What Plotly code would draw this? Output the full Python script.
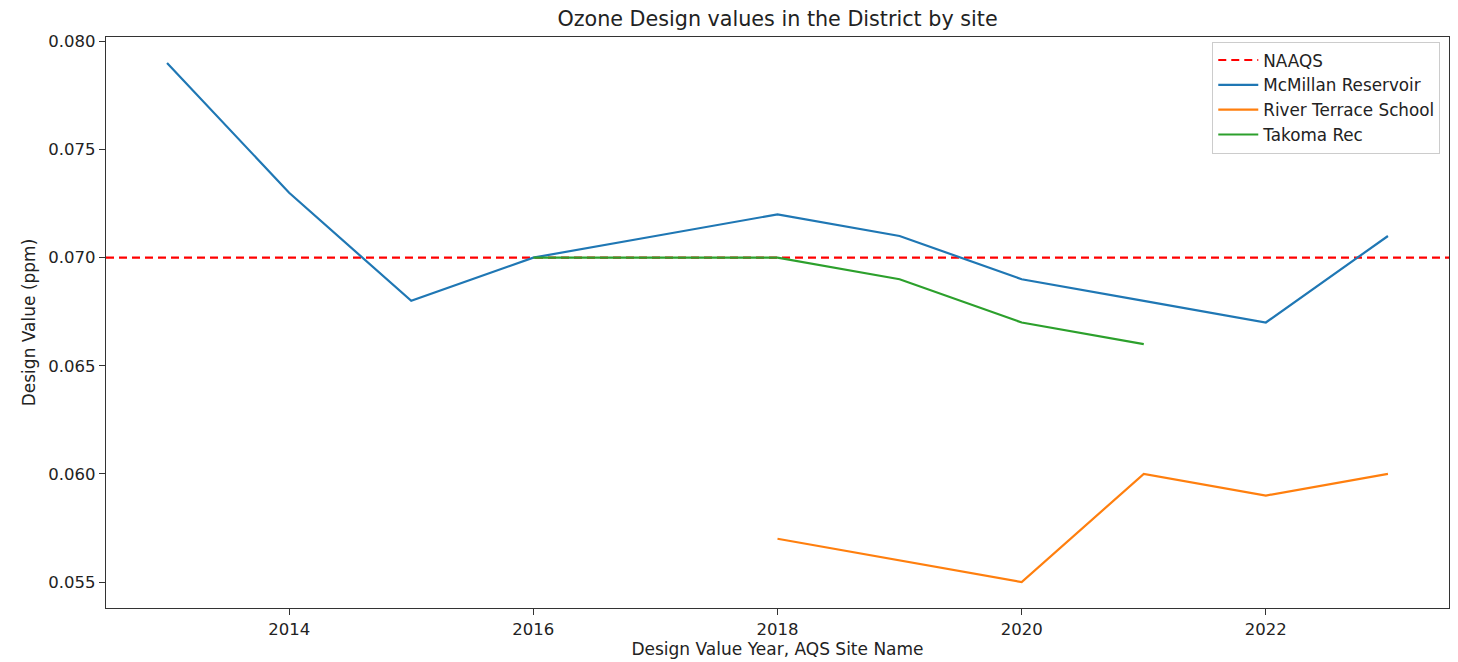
import plotly.graph_objects as go

naaqs = 0.070

mcm_years = [2013, 2014, 2015, 2016, 2017, 2018, 2019, 2020, 2021, 2022, 2023]
mcm_vals = [0.079, 0.073, 0.068, 0.070, 0.071, 0.072, 0.071, 0.069, 0.068, 0.067, 0.071]

rts_years = [2018, 2019, 2020, 2021, 2022, 2023]
rts_vals = [0.057, 0.056, 0.055, 0.060, 0.059, 0.060]

tak_years = [2016, 2017, 2018, 2019, 2020, 2021]
tak_vals = [0.070, 0.070, 0.070, 0.069, 0.067, 0.066]

fig = go.Figure()
fig.add_trace(go.Scatter(x=[2012.5, 2023.5], y=[naaqs, naaqs], mode="lines", name="NAAQS",
                         line=dict(color="red", width=2.2, dash="8px,5px")))
fig.add_trace(go.Scatter(x=mcm_years, y=mcm_vals, mode="lines", name="McMillan Reservoir",
                         line=dict(color="#1f77b4", width=2.2)))
fig.add_trace(go.Scatter(x=rts_years, y=rts_vals, mode="lines", name="River Terrace School",
                         line=dict(color="#ff7f0e", width=2.2)))
fig.add_trace(go.Scatter(x=tak_years, y=tak_vals, mode="lines", name="Takoma Rec",
                         line=dict(color="#2ca02c", width=2.2)))

axis_common = dict(showgrid=False, zeroline=False, showline=True, linecolor="#333333", linewidth=1.3,
                   mirror=True, ticks="outside", ticklen=6, tickcolor="#333333", tickwidth=1.3,
                   automargin=False, tickfont=dict(size=16.5, color="#222222"))

W, H = 1450, 654

fig.update_layout(
    width=W, height=H,
    margin=dict(l=98, r=9, t=29, b=54),
    paper_bgcolor="white", plot_bgcolor="white",
    font=dict(family="DejaVu Sans", color="#222222"),
    title=dict(text="Ozone Design values in the District by site", x=0.5, xref="paper", xanchor="center",
               y=1 - 11 / H, yref="container", yanchor="middle", automargin=False,
               font=dict(size=20.7)),
    xaxis=dict(range=[2012.5, 2023.5], tickvals=[2014, 2016, 2018, 2020, 2022],
               title=dict(text="Design Value Year, AQS Site Name", font=dict(size=17), standoff=3),
               **axis_common),
    yaxis=dict(range=[0.0538, 0.0802], tickvals=[0.055, 0.060, 0.065, 0.070, 0.075, 0.080],
               tickformat=".3f",
               title=dict(text="Design Value (ppm)", font=dict(size=17), standoff=8),
               **axis_common),
    legend=dict(x=0.9935, y=0.992, xanchor="right", yanchor="top", bgcolor="rgba(255,255,255,0.8)",
                bordercolor="#cccccc", borderwidth=1, font=dict(size=16.8), tracegroupgap=0,
                itemwidth=40),
    showlegend=True,
)

fig.write_html("out.html")
